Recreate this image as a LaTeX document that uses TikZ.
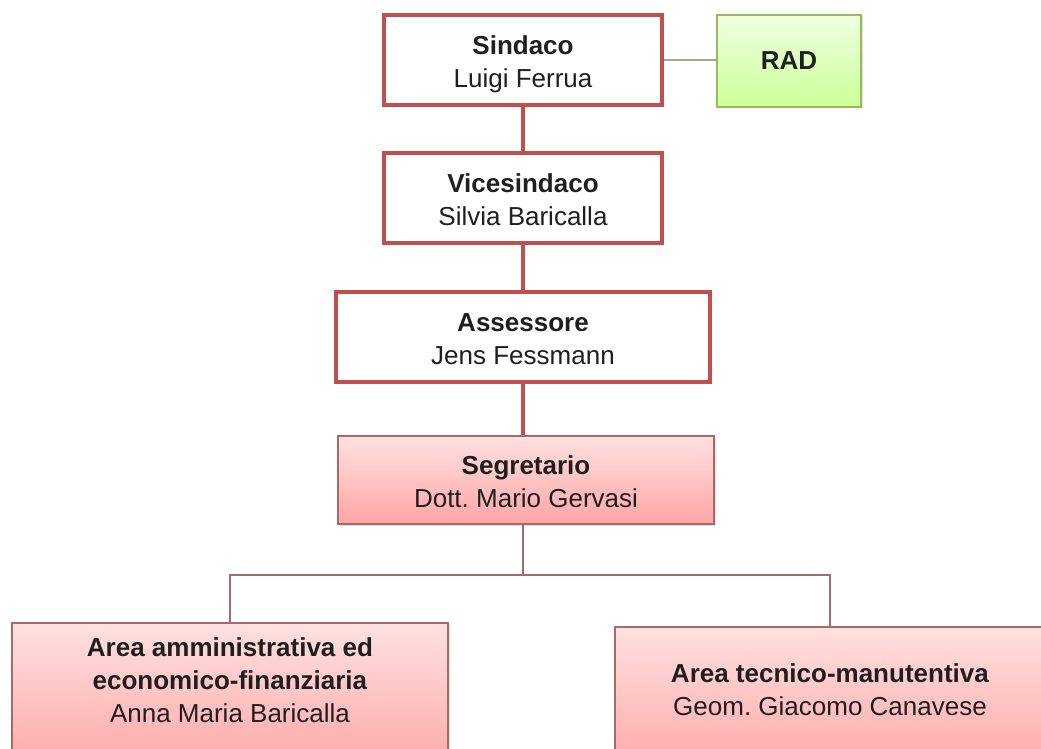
\documentclass[tikz,border=0pt]{standalone}
\usepackage{fontspec}
\setmainfont{Liberation Sans}
\usetikzlibrary{shadows}
\frenchspacing
\definecolor{boxred}{HTML}{C0504D}
\definecolor{linkred}{HTML}{A86A69}
\definecolor{radgreen}{HTML}{9BBB59}
\definecolor{radlink}{HTML}{9DAE86}
\newcommand\tsx{\rule{0pt}{29pt}}
\newcommand\bsx{\rule[-7pt]{0pt}{7pt}}
\tikzset{
  every node/.style={font=\fontsize{26}{33}\selectfont, align=center, text=black!88},
  topbox/.style={draw=boxred, line width=4pt, fill=white, minimum width=#1, minimum height=90pt, inner sep=0pt,
    drop shadow={shadow xshift=1.5pt, shadow yshift=-1.5pt, opacity=0.25}},
  pinkbox/.style={draw=linkred, line width=1.5pt, top color=red!12, bottom color=red!35, minimum width=#1, inner sep=0pt,
    drop shadow={shadow xshift=1.5pt, shadow yshift=-1.5pt, opacity=0.25}},
  radbox/.style={draw=radgreen, line width=1.5pt, top color=green!55!yellow!12, bottom color=green!50!yellow!40,
    minimum width=144pt, minimum height=92pt, inner sep=0pt,
    drop shadow={shadow xshift=1.5pt, shadow yshift=-1.5pt, opacity=0.25}},
  boxtext/.style={anchor=north, inner sep=0pt},
  redlink/.style={draw=boxred, line width=4pt},
  thinlink/.style={draw=linkred, line width=2pt},
  greenlink/.style={draw=radlink, line width=2.5pt}
}
\begin{document}
\begin{tikzpicture}[x=1pt, y=-1pt]
\useasboundingbox (0,0) rectangle (1041,749);
\node[radbox] (rad) at (789,61) {\textbf{RAD}};
\node[topbox=278pt] (sin) at (523,60) {\tsx\textbf{Sindaco}\\Luigi Ferrua\bsx};
\node[topbox=278pt] (vic) at (523,198) {\tsx\textbf{Vicesindaco}\\Silvia Baricalla\bsx};
\node[topbox=374pt] (ass) at (523,337) {\tsx\textbf{Assessore}\\Jens Fessmann\bsx};
\node[pinkbox=376pt, minimum height=88pt] (seg) at (526,480) {\tsx\textbf{Segretario}\\Dott. Mario Gervasi\bsx};
\node[pinkbox=436pt, minimum height=150pt, anchor=north] (aam) at (230,622) {};
\node[pinkbox=430pt, minimum height=150pt, anchor=north] (atm) at (830,626) {};
\node[boxtext] (aamt) at ([yshift=-5pt]aam.north)
  {\tsx\textbf{Area amministrativa ed}\\\textbf{economico-finanziaria}\\Anna Maria Baricalla};
\node[boxtext] (atmt) at ([yshift=-27pt]atm.north)
  {\tsx\textbf{Area tecnico-manutentiva}\\Geom. Giacomo Canavese};
\coordinate (j) at (523,575);
\draw[greenlink] (sin.east) -- (sin.east -| rad.west);
\draw[redlink] (sin.south) -- (vic.north);
\draw[redlink] (vic.south) -- (ass.north);
\draw[redlink] (ass.south) -- (ass.south |- seg.north);
\draw[thinlink] (seg.south -| j) -- (j);
\draw[thinlink] (aam.north) |- (j) -| (atm.north);
\end{tikzpicture}
\end{document}
